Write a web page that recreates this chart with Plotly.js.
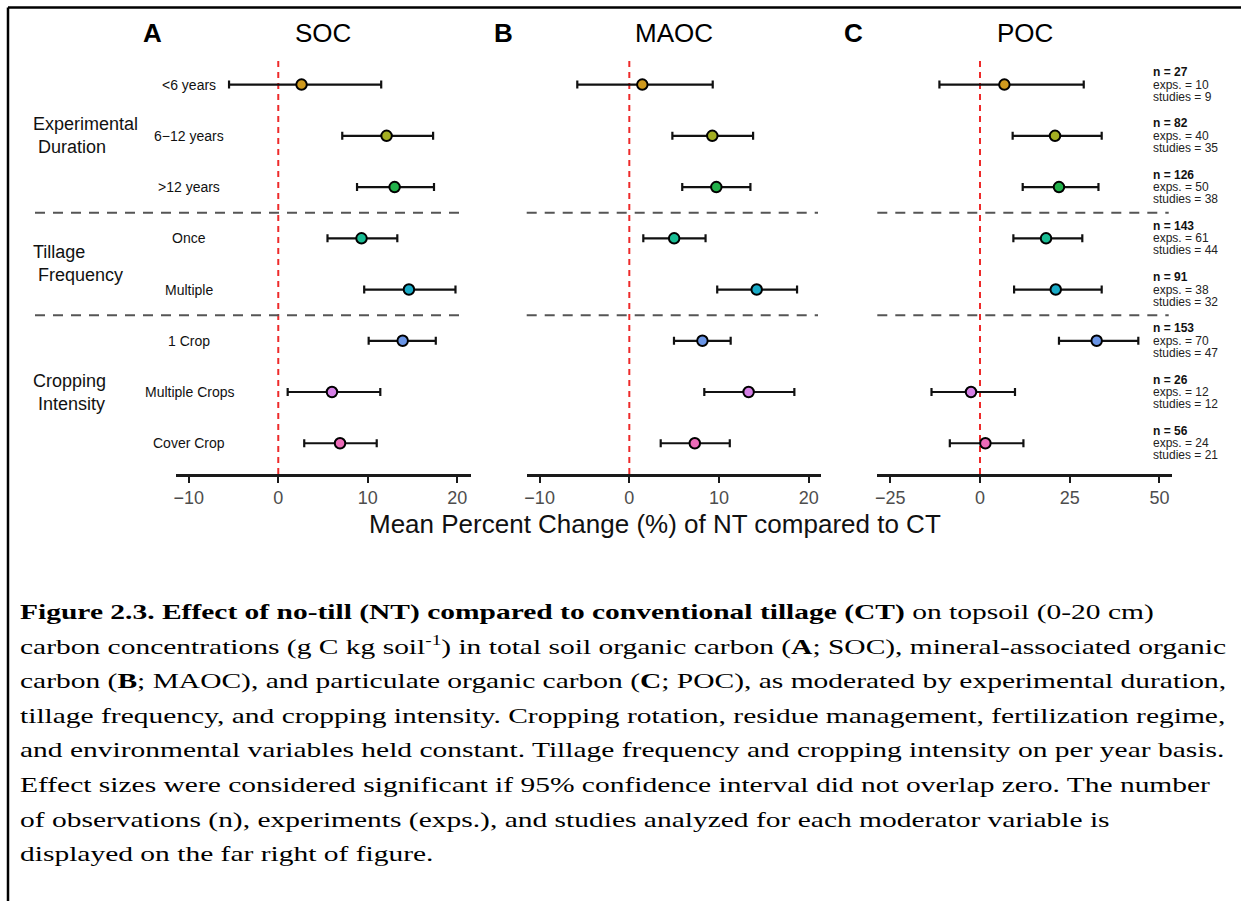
<!DOCTYPE html>
<html>
<head>
<meta charset="utf-8">
<script src="https://cdn.plot.ly/plotly-3.0.1.min.js"></script>
<style>
  html, body { margin: 0; padding: 0; background: #ffffff; }
  #wrap { position: relative; width: 1241px; height: 901px; overflow: hidden; }
  #chart { position: absolute; left: 0; top: 0; width: 1241px; height: 901px; }
  #caption {
    position: absolute; left: 20px; top: 595px;
    font-family: "Liberation Serif", "Times New Roman", serif;
    font-size: 22px; line-height: 34.6px; color: #000;
    white-space: nowrap;
    transform: scaleX(1.34); transform-origin: 0 0;
  }
  #caption sup { font-size: 65%; line-height: 0; vertical-align: 0.6em; }
</style>
</head>
<body>
<div id="wrap">
  <div id="chart"></div>
  <div id="caption"></div>
</div>
<script>
// ---------------- DATA ----------------
const categories = ["<6 years", "6\u221212 years", ">12 years", "Once", "Multiple", "1 Crop", "Multiple Crops", "Cover Crop"];
const groupLabels = ["Experimental<br>\u00A0Duration", "Tillage<br>\u00A0Frequency", "Cropping<br>\u00A0Intensity"];
const groupRows = [2, 4.5, 7];       // row position (1-based) of each group label
const separatorRows = [3.5, 5.5];    // between groups

const panelLetters = ["A", "B", "C"];
const panelNames = ["SOC", "MAOC", "POC"];

// SOC (panel A)
const socMean = [2.6, 12.1, 13.0, 9.3, 14.6, 13.9, 6.0, 6.9];
const socLow  = [-5.5, 7.15, 8.8, 5.5, 9.6, 10.1, 1.05, 2.9];
const socHigh = [11.5, 17.3, 17.4, 13.3, 19.8, 17.6, 11.4, 11.0];

// MAOC (panel B)
const maocMean = [1.45, 9.25, 9.7, 5.0, 14.2, 8.15, 13.3, 7.3];
const maocLow  = [-5.8, 4.8, 5.9, 1.56, 9.8, 4.98, 8.36, 3.5];
const maocHigh = [9.3, 13.8, 13.5, 8.5, 18.7, 11.3, 18.4, 11.2];

// POC (panel C)
const pocMean = [6.8, 20.9, 22.0, 18.4, 21.1, 32.5, -2.5, 1.5];
const pocLow  = [-11.3, 9.1, 11.9, 9.3, 9.5, 22.0, -13.5, -8.4];
const pocHigh = [28.9, 33.9, 33.0, 28.5, 33.9, 44.1, 9.75, 12.1];

// sample sizes shown on the far right
const nObs    = [27, 82, 126, 143, 91, 153, 26, 56];
const nExps   = [10, 40, 50, 61, 38, 70, 12, 24];
const nStudies = [9, 35, 38, 44, 32, 47, 12, 21];

const pointColors = ["#CF9A1E", "#A3AE22", "#22B14A", "#19BD94", "#19ABC7", "#6A95E6", "#D57FE6", "#EC6BB8"];

const xTickStep = [10, 10, 25];
const xRanges = [[-11.46, 21.5], [-11.44, 21.37], [-28.6, 53.4]];

const axisTitle = "Mean Percent Change (%) of NT compared to CT";
const captionLines = [
  "<b>Figure 2.3. Effect of no-till (NT) compared to conventional tillage (CT)</b> on topsoil (0-20 cm)",
  "carbon concentrations (g C kg soil<sup>-1</sup>) in total soil organic carbon (<b>A</b>; SOC), mineral-associated organic",
  "carbon (<b>B</b>; MAOC), and particulate organic carbon (<b>C</b>; POC), as moderated by experimental duration,",
  "tillage frequency, and cropping intensity. Cropping rotation, residue management, fertilization regime,",
  "and environmental variables held constant. Tillage frequency and cropping intensity on per year basis.",
  "Effect sizes were considered significant if 95% confidence interval did not overlap zero. The number",
  "of observations (n), experiments (exps.), and studies analyzed for each moderator variable is",
  "displayed on the far right of figure."
];

// ---------------- LAYOUT HELPERS ----------------
const W = 1241, H = 901;
const px = v => v / W;
const py = v => 1 - v / H;

const rows = categories.map((c, i) => i + 1);
const panels = [
  { mean: socMean, low: socLow, high: socHigh },
  { mean: maocMean, low: maocLow, high: maocHigh },
  { mean: pocMean, low: pocLow, high: pocHigh }
];
const xDomainsPx = [[175.7, 470.7], [526.7, 821], [877.3, 1171.7]];
const yDomain = [py(474), py(60)];
const yRange = [8.6, 0.52];
const SANS = "Liberation Sans, Arial, sans-serif";

const traces = panels.map((p, k) => ({
  type: "scatter",
  mode: "markers",
  x: p.mean,
  y: rows,
  xaxis: k === 0 ? "x" : "x" + (k + 1),
  yaxis: k === 0 ? "y" : "y" + (k + 1),
  marker: { size: 10.5, color: pointColors, line: { color: "#000000", width: 2 } },
  error_x: {
    type: "data", symmetric: false,
    array: p.high.map((h, i) => h - p.mean[i]),
    arrayminus: p.mean.map((m, i) => m - p.low[i]),
    color: "#111111", thickness: 2.2, width: 4
  },
  hoverinfo: "x+y",
  showlegend: false,
  cliponaxis: false
}));

const layout = {
  width: W, height: H,
  margin: { l: 0, r: 0, t: 0, b: 0, pad: 0 },
  paper_bgcolor: "rgba(0,0,0,0)",
  plot_bgcolor: "rgba(0,0,0,0)",
  showlegend: false,
  font: { family: SANS, color: "#000000" },
  shapes: [],
  annotations: []
};

for (let k = 0; k < 3; k++) {
  const xs = k === 0 ? "xaxis" : "xaxis" + (k + 1);
  const ys = k === 0 ? "yaxis" : "yaxis" + (k + 1);
  const yref = k === 0 ? "y" : "y" + (k + 1);
  const xref = k === 0 ? "x" : "x" + (k + 1);
  layout[xs] = {
    domain: [px(xDomainsPx[k][0]), px(xDomainsPx[k][1])],
    anchor: yref,
    range: xRanges[k],
    dtick: xTickStep[k], tick0: 0,
    showgrid: false, zeroline: false,
    showline: true, linecolor: "#1a1a1a", linewidth: 2.5,
    ticks: "outside", ticklen: 6, tickwidth: 2, tickcolor: "#1a1a1a",
    tickfont: { family: SANS, size: 18, color: "#4d4d4d" },
    fixedrange: true
  };
  layout[ys] = {
    domain: yDomain,
    anchor: xref,
    range: yRange,
    visible: false,
    fixedrange: true
  };
  // red zero line
  layout.shapes.push({
    type: "line", xref: xref, yref: yref + " domain",
    x0: 0, x1: 0, y0: 0, y1: 1,
    line: { color: "#EE2A2A", width: 2, dash: "6px,5px" },
    layer: "below"
  });
  // group separators
  const sepX = k === 0 ? [px(35), px(466.7)] : [px(xDomainsPx[k][0]), px(xDomainsPx[k][1] - 3)];
  separatorRows.forEach(r => {
    layout.shapes.push({
      type: "line", xref: "paper", yref: yref,
      x0: sepX[0], x1: sepX[1], y0: r, y1: r,
      line: { color: "#555555", width: 2, dash: "10px,8px" },
      layer: "below"
    });
  });
  // panel letter and name
  layout.annotations.push({
    xref: "paper", yref: "paper", x: px([152.7, 503.3, 853.3][k]), y: py(33),
    text: "<b>" + panelLetters[k] + "</b>", showarrow: false,
    xanchor: "center", yanchor: "middle",
    font: { family: SANS, size: 26, color: "#000000" }
  });
  layout.annotations.push({
    xref: "paper", yref: "paper",
    x: px((xDomainsPx[k][0] + xDomainsPx[k][1]) / 2), y: py(33),
    text: panelNames[k], showarrow: false,
    xanchor: "center", yanchor: "middle",
    font: { family: SANS, size: 26, color: "#000000" }
  });
}

// row labels
categories.forEach((c, i) => {
  layout.annotations.push({
    xref: "paper", yref: "y", x: px(189), y: rows[i],
    text: c.replace("<", "&lt;").replace(">", "&gt;"), showarrow: false,
    xanchor: "center", yanchor: "middle",
    font: { family: SANS, size: 14, color: "#111111" }
  });
});

// group labels
groupLabels.forEach((g, i) => {
  layout.annotations.push({
    xref: "paper", yref: "y", x: px(31), y: groupRows[i],
    text: g, showarrow: false, align: "left",
    xanchor: "left", yanchor: "middle",
    font: { family: SANS, size: 18, color: "#111111" }
  });
});

// sample-size annotations (far right)
rows.forEach((r, i) => {
  const common = { xref: "paper", yref: "y3", x: px(1150.5), y: r, showarrow: false, xanchor: "left", yanchor: "middle", align: "left" };
  layout.annotations.push(Object.assign({}, common, {
    text: "<b>n = " + nObs[i] + "</b>", yshift: 12.5,
    font: { family: SANS, size: 12, color: "#111111" }
  }));
  layout.annotations.push(Object.assign({}, common, {
    text: "exps. = " + nExps[i], yshift: 0,
    font: { family: SANS, size: 12, color: "#222222" }
  }));
  layout.annotations.push(Object.assign({}, common, {
    text: "studies = " + nStudies[i], yshift: -12,
    font: { family: SANS, size: 12, color: "#222222" }
  }));
});

// common x-axis title
layout.annotations.push({
  xref: "paper", yref: "paper", x: px(655), y: py(524),
  text: axisTitle, showarrow: false, xanchor: "center", yanchor: "middle",
  font: { family: SANS, size: 26, color: "#111111" }
});

// page border (top and left rules)
layout.shapes.push({ type: "line", xref: "paper", yref: "paper", x0: px(8), x1: 1, y0: py(7.5), y1: py(7.5), line: { color: "#000000", width: 2.5 } });
layout.shapes.push({ type: "line", xref: "paper", yref: "paper", x0: px(8), x1: px(8), y0: py(7.5), y1: 0, line: { color: "#000000", width: 2.5 } });

Plotly.newPlot("chart", traces, layout, { staticPlot: true, displayModeBar: false });

// caption (real text, HTML)
document.getElementById("caption").innerHTML = captionLines.join("<br>");
</script>
</body>
</html>
